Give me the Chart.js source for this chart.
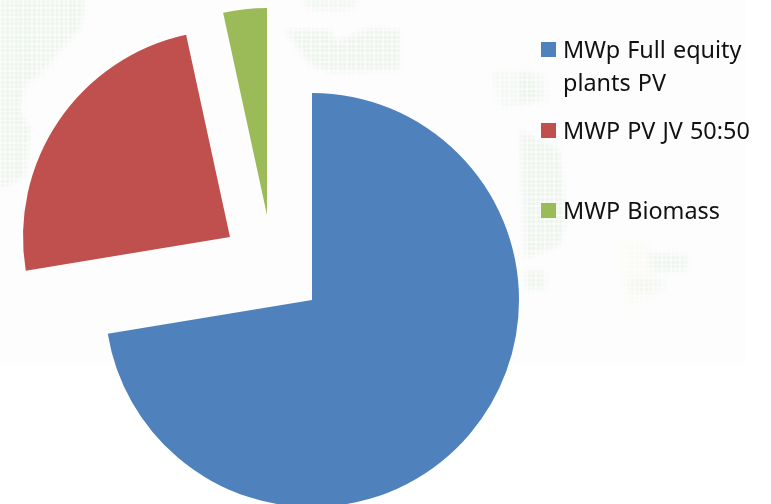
<!DOCTYPE html>
<html>
<head>
<meta charset="utf-8">
<style>
html,body{margin:0;padding:0;background:#fff;width:771px;height:504px;overflow:hidden}
#wrap{position:relative;width:771px;height:504px}
#bg{position:absolute;left:0;top:0;width:745px;height:364px;background-color:#fdfdfd;overflow:hidden}
#bg:after{content:"";position:absolute;inset:0;background-image:repeating-linear-gradient(0deg,rgba(253,253,253,.6) 0 1.5px,transparent 1.5px 4.5px),repeating-linear-gradient(90deg,rgba(253,253,253,.6) 0 1.5px,transparent 1.5px 4.5px)}
.s{position:absolute;left:0;top:0;width:745px;height:364px;filter:blur(3px)}
.p{position:absolute;left:0;top:0;width:745px;height:364px;background-color:rgba(205,228,205,.34)}
.a{clip-path:polygon(0 0,85px 0,80px 30px,60px 50px,45px 70px,25px 85px,20px 110px,30px 130px,25px 175px,0 190px)}
.b{clip-path:polygon(285px 30px,330px 30px,335px 42px,370px 28px,400px 30px,400px 70px,330px 72px,310px 65px)}
.c{clip-path:polygon(300px 0,360px 0,350px 10px,310px 10px);opacity:.8}
.d{clip-path:polygon(490px 70px,530px 72px,540px 100px,500px 110px);opacity:.5}
.e{clip-path:polygon(520px 70px,545px 75px,548px 100px,520px 105px);opacity:.6}
.f{clip-path:polygon(520px 130px,560px 150px,566px 220px,560px 245px,525px 258px);opacity:1}
.g{clip-path:polygon(525px 270px,545px 270px,546px 290px,525px 290px);opacity:.9}
.h{clip-path:polygon(650px 252px,690px 256px,685px 272px,650px 272px);opacity:.9}
.i{clip-path:polygon(630px 278px,666px 278px,664px 292px,630px 292px);opacity:.6}
.j{clip-path:polygon(620px 240px,650px 240px,655px 300px,625px 310px);opacity:.3;background-color:rgba(235,235,195,.4)}
canvas{position:absolute;left:0;top:0}
.key{position:absolute;left:541px;width:15px;height:15px}
.lab{position:absolute;left:563px;font:23.4px/33px "Noto Sans",sans-serif;word-spacing:1px;color:#111;white-space:nowrap}
</style>
</head>
<body>
<div id="wrap">
<div id="bg"><div class="s"><div class="p a"></div><div class="p b"></div><div class="p c"></div><div class="p d"></div><div class="p e"></div><div class="p f"></div><div class="p g"></div><div class="p h"></div><div class="p i"></div><div class="p j"></div></div></div>
<canvas id="c" width="771" height="504"></canvas>
<div id="legend"></div>
</div>
<script src="https://cdn.jsdelivr.net/npm/chart.js@4"></script>
<script>
const labels = ["MWp Full equity plants PV", "MWP PV JV 50:50", "MWP Biomass"];
const values = [72.4, 24.2, 3.4];
const colors = ["#4F81BD", "#C0504D", "#9BBB59"];
const sliceShift = [[0, 0], [-82, -63], [-45, -85]];
const legendLines = [["MWp Full equity", "plants PV"], ["MWP PV JV 50:50"], ["MWP Biomass"]];
const legendTops = [42, 123, 203];

const explode = {
  id: "explode",
  afterDatasetsUpdate(chart) {
    chart.getDatasetMeta(0).data.forEach((arc, i) => {
      arc.x += sliceShift[i][0];
      arc.y += sliceShift[i][1];
    });
  }
};

new Chart(document.getElementById("c"), {
  type: "pie",
  data: { labels, datasets: [{ data: values, backgroundColor: colors, borderWidth: 0, radius: 207 }] },
  plugins: [explode],
  options: {
    responsive: false,
    animation: false,
    layout: { padding: { left: 0, right: 147, top: 96, bottom: 0 } },
    plugins: { legend: { display: false }, tooltip: { enabled: false } }
  }
});

const host = document.getElementById("legend");
labels.forEach((_, i) => {
  const k = document.createElement("div");
  k.className = "key";
  k.style.top = legendTops[i] + "px";
  k.style.background = colors[i];
  host.appendChild(k);
  const t = document.createElement("div");
  t.className = "lab";
  t.style.top = (legendTops[i] - 9) + "px";
  t.innerHTML = legendLines[i].join("<br>");
  host.appendChild(t);
});
</script>
</body>
</html>
